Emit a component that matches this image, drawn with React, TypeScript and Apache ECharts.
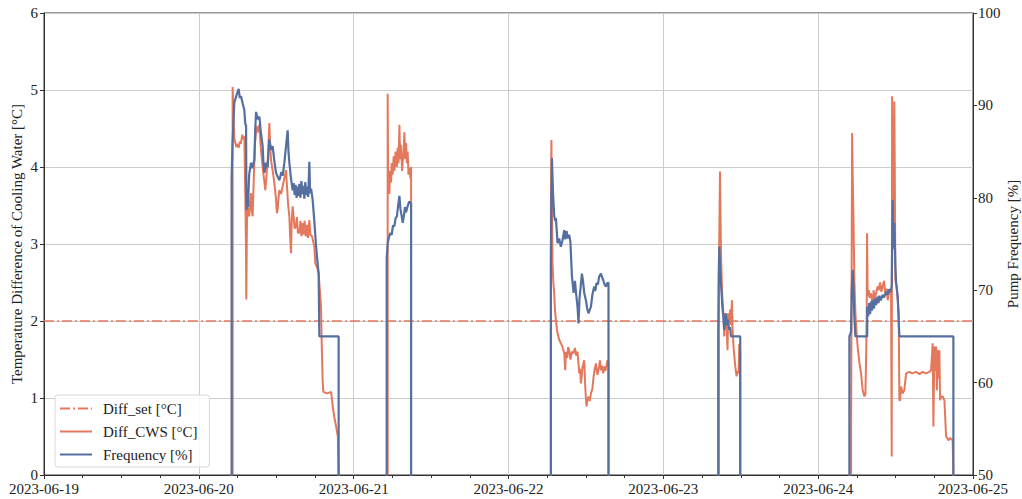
import React, { useEffect, useRef } from "react";
import * as echarts from "echarts";

// X axis: hours since 2023-06-19 00:00, one tick label per day
const dayLabels = ["2023-06-19", "2023-06-20", "2023-06-21", "2023-06-22", "2023-06-23", "2023-06-24", "2023-06-25"];

// Cooling water temperature difference set point [°C]
const diffSetValue = 2;

// Each run: [hour of day, value]. Day index counts from 2023-06-19.
const runDays = [1, 2, 3, 4, 5];

// Diff_CWS [°C]
const cwsJun20: [number, number][] = [
  [5.24, 0], [5.24, 5.04], [5.4, 4.6], [5.5, 4.37], [5.65, 4.32], [5.8, 4.26], [6.0, 4.3], [6.17, 4.25], [6.35, 4.33],
  [6.5, 4.3], [6.74, 4.42], [6.9, 4.36], [7.05, 4.4], [7.15, 3.9], [7.21, 3.6], [7.3, 3.0], [7.36, 2.28], [7.45, 3.2],
  [7.52, 3.5], [7.65, 3.4], [7.83, 3.36], [7.95, 3.55], [8.09, 3.66], [8.2, 3.45], [8.34, 3.36], [8.5, 3.8], [8.7, 4.3],
  [8.96, 4.53], [9.15, 4.45], [9.38, 4.55], [9.6, 4.25], [9.89, 4.0], [10.1, 3.85], [10.31, 3.7], [10.5, 3.9],
  [10.67, 4.09], [10.8, 4.3], [10.93, 4.57], [11.05, 4.3], [11.19, 4.09], [11.45, 3.95], [11.71, 3.79], [11.95, 3.6],
  [12.1, 3.4], [12.22, 3.45], [12.35, 3.6], [12.48, 3.7], [12.75, 3.65], [13.0, 3.75], [13.25, 3.85], [13.52, 3.96],
  [13.7, 3.7], [13.85, 3.5], [14.03, 3.36], [14.15, 3.1], [14.29, 2.88], [14.4, 3.3], [14.54, 3.49], [14.7, 3.35],
  [14.85, 3.2], [15.06, 3.23], [15.2, 3.35], [15.35, 3.15], [15.58, 3.14], [15.75, 3.3], [15.9, 3.1], [16.1, 3.27],
  [16.25, 3.12], [16.4, 3.3], [16.6, 3.1], [16.8, 3.25], [16.95, 3.08], [17.13, 3.31], [17.3, 3.12], [17.55, 3.1],
  [17.75, 3.02], [17.9, 2.97], [18.05, 2.75], [18.26, 2.71], [18.4, 2.68], [18.57, 2.62], [18.75, 2.4], [18.94, 2.19],
  [19.05, 1.7], [19.19, 1.23], [19.3, 1.08], [19.9, 1.06], [20.5, 1.08], [20.76, 0.89], [21.0, 0.75], [21.28, 0.63],
  [21.55, 0.5], [21.67, 0],
];
const cwsJun21: [number, number][] = [
  [5.27, 0], [5.27, 4.95], [5.35, 3.7], [5.45, 3.9], [5.53, 3.65], [5.65, 3.95], [5.8, 3.8], [5.9, 4.05], [6.05, 3.9],
  [6.2, 4.14], [6.31, 3.95], [6.5, 4.2], [6.7, 4.0], [6.82, 4.25], [6.95, 4.05], [7.09, 4.55], [7.2, 4.1], [7.35, 4.29],
  [7.5, 3.95], [7.6, 4.07], [7.75, 4.2], [7.86, 4.45], [8.0, 4.1], [8.12, 4.31], [8.25, 4.05], [8.37, 4.2], [8.5, 3.9],
  [8.64, 3.99], [8.8, 3.85], [8.9, 4.0], [8.9, 0],
];
const cwsJun22: [number, number][] = [
  [6.57, 0], [6.57, 3.5], [6.65, 4.35], [6.73, 3.6], [6.82, 2.75], [6.95, 2.5], [7.09, 2.36], [7.2, 2.15], [7.35, 2.01],
  [7.5, 1.9], [7.6, 1.84], [7.85, 1.76], [8.12, 1.71], [8.37, 1.66], [8.64, 1.58], [8.79, 1.36], [8.9, 1.6], [9.1, 1.52],
  [9.25, 1.66], [9.41, 1.62], [9.6, 1.5], [9.83, 1.6], [10.09, 1.58], [10.3, 1.65], [10.5, 1.55], [10.7, 1.6],
  [10.85, 1.45], [10.96, 1.32], [11.1, 1.38], [11.22, 1.19], [11.38, 1.3], [11.47, 1.4], [11.74, 1.49], [11.89, 1.15],
  [12.0, 1.0], [12.09, 0.89], [12.25, 0.98], [12.4, 1.02], [12.6, 0.96], [12.78, 1.06], [13.0, 1.12], [13.13, 1.23],
  [13.3, 1.35], [13.55, 1.45], [13.7, 1.34], [13.8, 1.3], [14.06, 1.42], [14.17, 1.49], [14.33, 1.36], [14.5, 1.42],
  [14.68, 1.32], [14.84, 1.41], [15.0, 1.35], [15.19, 1.42], [15.35, 1.49], [15.5, 1.45], [15.5, 0],
];
const cwsJun23: [number, number][] = [
  [8.6, 0], [8.6, 2.5], [8.78, 3.94], [8.93, 2.92], [9.09, 2.4], [9.18, 2.25], [9.29, 2.14], [9.44, 1.8], [9.6, 2.1],
  [9.71, 1.9], [9.8, 1.97], [9.95, 1.62], [10.05, 2.1], [10.22, 1.98], [10.35, 2.15], [10.48, 1.95], [10.64, 2.27],
  [10.73, 1.9], [10.88, 1.67], [11.0, 1.55], [11.15, 1.41], [11.35, 1.28], [11.5, 1.35], [11.66, 1.32], [11.77, 1.7],
  [11.92, 1.6], [11.92, 0],
];
const cwsJun24: [number, number][] = [
  [5.1, 0], [5.1, 0.45], [5.26, 4.44], [5.35, 3.9], [5.46, 3.4], [5.61, 2.53], [5.77, 2.1], [5.95, 1.85], [6.12, 1.67],
  [6.4, 1.45], [6.65, 1.32], [6.9, 1.1], [7.16, 1.02], [7.32, 1.05], [7.45, 1.6], [7.52, 2.1], [7.58, 3.14], [7.67, 2.32],
  [7.83, 2.4], [8.0, 2.3], [8.2, 2.36], [8.45, 2.19], [8.6, 2.4], [8.75, 2.28], [8.98, 2.36], [9.2, 2.45], [9.38, 2.4],
  [9.6, 2.5], [9.8, 2.38], [10.0, 2.45], [10.2, 2.52], [10.4, 2.36], [10.6, 2.42], [10.78, 2.27], [11.0, 2.38],
  [11.3, 2.36], [11.4, 0.24], [11.46, 4.92], [11.55, 3.2], [11.66, 3.49], [11.81, 4.85], [11.97, 2.53], [12.17, 2.45],
  [12.48, 2.1], [12.59, 0.97], [12.7, 0.97], [12.85, 1.15], [13.1, 1.06], [13.35, 1.1], [13.63, 1.32], [13.88, 1.33],
  [14.14, 1.34], [14.6, 1.32], [15.18, 1.34], [15.7, 1.31], [16.2, 1.34], [16.7, 1.32], [17.24, 1.34], [17.5, 1.36],
  [17.75, 1.71], [17.86, 0.63], [18.02, 1.67], [18.17, 1.35], [18.28, 1.67], [18.4, 1.1], [18.53, 1.62], [18.68, 1.25],
  [18.79, 1.62], [18.9, 0.97], [19.05, 1.02], [19.3, 1.02], [19.57, 0.97], [19.83, 0.5], [20.23, 0.45], [20.45, 0.48],
  [20.85, 0.45], [20.96, 0],
];

// Pump frequency [%]
const freqJun20: [number, number][] = [
  [5.08, 0], [5.08, 82], [5.2, 85.5], [5.5, 90.3], [5.8, 91.0], [6.17, 91.8], [6.35, 90.8], [6.54, 91.0], [6.8, 90.2],
  [7.05, 89.5], [7.2, 88.0], [7.32, 87.8], [7.38, 78.7], [7.5, 80.5], [7.6, 79.0], [7.8, 82.5], [8.09, 83.8],
  [8.3, 83.2], [8.6, 84.1], [8.75, 87.5], [8.87, 89.3], [9.1, 88.5], [9.38, 88.8], [9.6, 87.2], [9.89, 85.6],
  [10.0, 84.0], [10.16, 82.7], [10.4, 83.8], [10.67, 83.3], [10.8, 85.0], [10.93, 86.3], [11.2, 85.2], [11.44, 85.6],
  [11.7, 84.0], [11.97, 82.7], [12.2, 82.3], [12.48, 81.9], [12.8, 82.8], [13.0, 82.4], [13.26, 83.8], [13.5, 85.5],
  [13.77, 87.3], [13.9, 85.0], [14.03, 83.8], [14.3, 82.0], [14.54, 80.8], [14.7, 81.6], [14.85, 80.3], [15.0, 81.4],
  [15.15, 80.0], [15.3, 81.2], [15.45, 80.2], [15.58, 81.5], [15.75, 80.0], [15.9, 81.8], [16.05, 80.4], [16.2, 81.3],
  [16.35, 79.9], [16.5, 81.7], [16.65, 80.3], [16.8, 81.2], [16.95, 80.1], [17.13, 83.9], [17.25, 80.5], [17.4, 81.0],
  [17.64, 79.8], [17.9, 77.5], [18.17, 74.8], [18.4, 73.0], [18.57, 71.8], [18.68, 65], [21.67, 65], [21.67, 0],
];
const freqJun21: [number, number][] = [
  [5.12, 0], [5.12, 73.5], [5.3, 75.2], [5.5, 75.8], [5.7, 76.2], [5.9, 76.0], [6.1, 77.0], [6.31, 76.9], [6.5, 77.8],
  [6.7, 78.0], [6.9, 79.2], [7.09, 80.2], [7.25, 78.8], [7.45, 78.0], [7.6, 77.3], [7.8, 78.1], [7.95, 79.0],
  [8.1, 78.4], [8.37, 79.1], [8.6, 79.6], [8.9, 79.4], [8.9, 0],
];
const freqJun22: [number, number][] = [
  [6.57, 0], [6.57, 73], [6.65, 80], [6.73, 84.3], [6.9, 80.5], [7.09, 78.0], [7.25, 77.5], [7.35, 77.8], [7.6, 75.1],
  [7.85, 75.6], [8.12, 74.7], [8.37, 75.4], [8.64, 76.5], [8.8, 75.5], [9.0, 76.4], [9.2, 75.6], [9.41, 76.0],
  [9.6, 75.2], [9.83, 71.5], [10.09, 69.7], [10.3, 71.0], [10.5, 69.5], [10.7, 68.2], [10.85, 66.4], [11.0, 69.0],
  [11.2, 70.5], [11.38, 71.8], [11.55, 71.0], [11.74, 69.7], [12.0, 68.9], [12.2, 68.0], [12.4, 67.5], [12.6, 67.9],
  [12.78, 68.2], [13.0, 69.5], [13.29, 70.4], [13.45, 69.9], [13.64, 70.8], [13.85, 70.6], [14.06, 71.5],
  [14.33, 71.8], [14.5, 71.4], [14.68, 71.1], [14.9, 70.6], [15.1, 70.4], [15.35, 70.8], [15.5, 70.8], [15.5, 0],
];
const freqJun23: [number, number][] = [
  [8.51, 0], [8.51, 65], [8.6, 72], [8.67, 74.7], [8.8, 72.5], [8.93, 70.8], [9.09, 69.0], [9.18, 67.9], [9.3, 67.2],
  [9.44, 65.7], [9.6, 67.0], [9.71, 67.5], [9.85, 66.2], [10.0, 66.8], [10.22, 65.7], [10.35, 66.0], [10.48, 65],
  [11.92, 65], [11.92, 0],
];
const freqJun24: [number, number][] = [
  [4.84, 0], [4.84, 65], [5.1, 65.5], [5.2, 70], [5.35, 72.2], [5.46, 70.5], [5.61, 67.1], [5.77, 65], [7.6, 65],
  [7.6, 68.2], [7.75, 67.2], [7.9, 68.6], [8.05, 67.4], [8.2, 68.8], [8.35, 67.8], [8.5, 68.9], [8.65, 68.0],
  [8.8, 69.1], [8.98, 68.4], [9.2, 69.3], [9.35, 68.6], [9.49, 69.4], [9.7, 68.9], [10.0, 69.5], [10.2, 69.2],
  [10.53, 69.8], [10.78, 69.5], [10.93, 70.1], [11.2, 69.8], [11.4, 70.4], [11.55, 79.8], [11.66, 74.5], [11.81, 77.3],
  [11.97, 72.5], [12.08, 70.8], [12.33, 69.3], [12.59, 65], [20.96, 65], [20.96, 0],
];

const cwsRuns = [cwsJun20, cwsJun21, cwsJun22, cwsJun23, cwsJun24];
const freqRuns = [freqJun20, freqJun21, freqJun22, freqJun23, freqJun24];

const serif = "'Liberation Serif', 'Times New Roman', serif";
const textColor = "#222";
const axisColor = "#333";
const orange = "#E4785C";
const blue = "#556FA0";

// Join the daily runs on the hour axis, breaking the line between runs.
function joinRuns(runs: [number, number][][]): (number | string)[][] {
  const out: (number | string)[][] = [];
  runs.forEach((run, i) => {
    const offset = runDays[i] * 24;
    if (i > 0) out.push([offset + run[0][0] - 0.5, "-"]);
    run.forEach(([h, v]) => out.push([offset + h, v]));
  });
  return out;
}

export default function App() {
  const ref = useRef<HTMLDivElement>(null);

  useEffect(() => {
    if (!ref.current) return;
    const chart = echarts.init(ref.current, null, { renderer: "svg" });
    const totalHours = (dayLabels.length - 1) * 24;

    chart.setOption({
      animation: false,
      backgroundColor: "#fff",
      grid: {
        left: 44,
        right: 49,
        top: 13,
        bottom: 24,
        outerBoundsMode: "none",
        containLabel: false,
        show: true,
        borderColor: axisColor,
        borderWidth: 1,
      },
      legend: {
        orient: "vertical",
        left: 55,
        top: 395,
        itemWidth: 32,
        itemHeight: 12,
        itemGap: 8,
        padding: [6, 12, 5, 4],
        backgroundColor: "rgba(255,255,255,0.85)",
        borderColor: "#d8d8d8",
        borderWidth: 1,
        borderRadius: 3,
        itemStyle: { opacity: 0 },
        textStyle: { fontFamily: serif, fontSize: 15, color: textColor, padding: [0, 0, 0, 6] },
        data: ["Diff_set [°C]", "Diff_CWS [°C]", "Frequency [%]"],
      },
      xAxis: {
        type: "value",
        min: 0,
        max: totalHours,
        interval: 24,
        axisLine: { show: true, lineStyle: { color: axisColor, width: 1 } },
        axisTick: { show: true, length: 4, lineStyle: { color: axisColor } },
        minorTick: { show: true, splitNumber: 4, length: 3, lineStyle: { color: axisColor } },
        splitLine: { show: true, lineStyle: { color: "#cccccc", width: 1 } },
        axisLabel: {
          fontFamily: serif,
          fontSize: 15,
          color: textColor,
          margin: 6,
          formatter: (v: number) => dayLabels[Math.round(v / 24)] ?? "",
        },
      },
      yAxis: [
        {
          type: "value",
          min: 0,
          max: 6,
          interval: 1,
          name: "Temperature Difference of Cooling Water [°C]",
          nameLocation: "middle",
          nameRotate: 90,
          nameGap: 20,
          nameMoveOverlap: false,
          nameTextStyle: { fontFamily: serif, fontSize: 15, color: textColor },
          axisLine: { show: true, lineStyle: { color: axisColor, width: 1 } },
          axisTick: { show: true, length: 4, lineStyle: { color: axisColor } },
          splitLine: { show: true, lineStyle: { color: "#cccccc", width: 1 } },
          axisLabel: { fontFamily: serif, fontSize: 15, color: textColor, margin: 6 },
        },
        {
          type: "value",
          min: 50,
          max: 100,
          interval: 10,
          position: "right",
          name: "Pump Frequency [%]",
          nameLocation: "middle",
          nameRotate: 90,
          nameGap: 32,
          nameMoveOverlap: false,
          nameTextStyle: { fontFamily: serif, fontSize: 15, color: textColor },
          axisLine: { show: true, lineStyle: { color: axisColor, width: 1 } },
          axisTick: { show: true, length: 4, lineStyle: { color: axisColor } },
          splitLine: { show: false },
          axisLabel: { fontFamily: serif, fontSize: 15, color: textColor, margin: 5 },
        },
      ],
      series: [
        {
          name: "Diff_set [°C]",
          type: "line",
          yAxisIndex: 0,
          symbol: "none",
          data: [
            [0, diffSetValue],
            [totalHours, diffSetValue],
          ],
          lineStyle: { color: orange, width: 1.6, type: [10, 3, 2, 3] },
          itemStyle: { color: orange },
        },
        {
          name: "Diff_CWS [°C]",
          type: "line",
          yAxisIndex: 0,
          symbol: "none",
          connectNulls: false,
          data: joinRuns(cwsRuns),
          lineStyle: { color: orange, width: 2 },
          itemStyle: { color: orange },
        },
        {
          name: "Frequency [%]",
          type: "line",
          yAxisIndex: 1,
          symbol: "none",
          connectNulls: false,
          data: joinRuns(freqRuns),
          lineStyle: { color: blue, width: 2.2 },
          itemStyle: { color: blue },
        },
      ],
    });

    return () => chart.dispose();
  }, []);

  return <div ref={ref} style={{ position: "fixed", left: 0, top: 0, width: 1022, height: 499 }} />;
}
